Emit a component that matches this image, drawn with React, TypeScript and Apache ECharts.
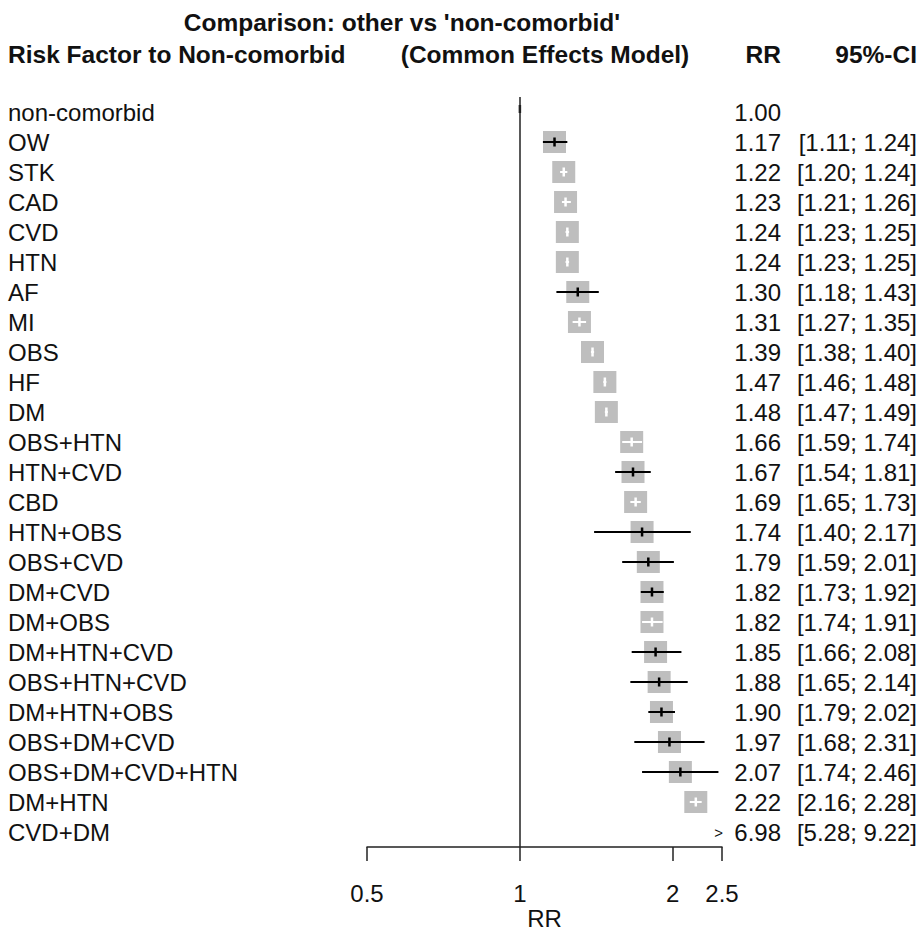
import React, { useEffect, useRef } from 'react';
import * as echarts from 'echarts';

const labels = [
  'non-comorbid', 'OW', 'STK', 'CAD', 'CVD', 'HTN', 'AF', 'MI', 'OBS', 'HF', 'DM',
  'OBS+HTN', 'HTN+CVD', 'CBD', 'HTN+OBS', 'OBS+CVD', 'DM+CVD', 'DM+OBS',
  'DM+HTN+CVD', 'OBS+HTN+CVD', 'DM+HTN+OBS', 'OBS+DM+CVD', 'OBS+DM+CVD+HTN',
  'DM+HTN', 'CVD+DM',
];
const rrValues = [
  1.00, 1.17, 1.22, 1.23, 1.24, 1.24, 1.30, 1.31, 1.39, 1.47, 1.48,
  1.66, 1.67, 1.69, 1.74, 1.79, 1.82, 1.82, 1.85, 1.88, 1.90, 1.97, 2.07,
  2.22, 6.98,
];
const ciLower: (number | null)[] = [
  null, 1.11, 1.20, 1.21, 1.23, 1.23, 1.18, 1.27, 1.38, 1.46, 1.47,
  1.59, 1.54, 1.65, 1.40, 1.59, 1.73, 1.74, 1.66, 1.65, 1.79, 1.68, 1.74,
  2.16, 5.28,
];
const ciUpper: (number | null)[] = [
  null, 1.24, 1.24, 1.26, 1.25, 1.25, 1.43, 1.35, 1.40, 1.48, 1.49,
  1.74, 1.81, 1.73, 2.17, 2.01, 1.92, 1.91, 2.08, 2.14, 2.02, 2.31, 2.46,
  2.28, 9.22,
];
const axisTickValues = [0.5, 1, 2, 2.5];
const axisMin = 0.5;
const axisMax = 2.5;
const titleText = "Comparison: other vs 'non-comorbid'";
const headerLeft = 'Risk Factor to Non-comorbid';
const headerModel = '(Common Effects Model)';
const headerRR = 'RR';
const headerCI = '95%-CI';
const axisName = 'RR';

const FONT = '"Liberation Sans", Arial, Helvetica, sans-serif';
const TEXT = '#111';
const BOX = '#bebebe';
const LINE = '#222';
const RR_RIGHT = 781;
const CI_RIGHT = 917;
const BOX_W = 23;
const BOX_H = 22;

const f2 = (v: number) => v.toFixed(2);

function hText(text: string, x: number, y: number, align: string) {
  return {
    type: 'text',
    x,
    y,
    silent: true,
    style: {
      text,
      fill: TEXT,
      fontFamily: FONT,
      fontSize: 24.5,
      fontWeight: 'bold',
      align,
      textAlign: align,
      verticalAlign: 'middle',
      textVerticalAlign: 'middle',
    },
  };
}

export default function App() {
  const ref = useRef<HTMLDivElement>(null);

  useEffect(() => {
    const chart = echarts.init(ref.current!, null, { renderer: 'svg' });
    const data = rrValues.map((v, i) => [Math.min(v, axisMax), i]);

    const renderItem = (params: any, api: any) => {
      const i = params.dataIndex;
      const rr = rrValues[i];
      const lo = ciLower[i];
      const hi = ciUpper[i];
      const pt = api.coord([Math.min(rr, axisMax), i]);
      const cx = pt[0];
      const cy = pt[1];
      const children: any[] = [];
      const txt = (text: string, x: number, size = 24) => ({
        type: 'text',
        style: {
          text, x, y: cy, fill: TEXT, fontFamily: FONT, fontSize: size,
          align: 'right', textAlign: 'right', verticalAlign: 'middle', textVerticalAlign: 'middle',
        },
      });
      children.push(txt(f2(rr), RR_RIGHT));
      if (lo != null && hi != null) {
        children.push(txt('[' + f2(lo) + '; ' + f2(hi) + ']', CI_RIGHT));
      }
      if (rr > axisMax) {
        children.push(txt('>', cx + 1, 15));
      } else if (lo == null || hi == null) {
        children.push({
          type: 'line',
          shape: { x1: cx, y1: cy - 7, x2: cx, y2: cy + 1 },
          style: { stroke: LINE, lineWidth: 2.5 },
        });
      } else {
        const xl = api.coord([lo, i])[0];
        const xh = api.coord([hi, i])[0];
        const outside = xl < cx - BOX_W / 2 || xh > cx + BOX_W / 2;
        const col = outside ? '#000' : '#fff';
        children.push({
          type: 'rect',
          shape: { x: cx - BOX_W / 2, y: cy - BOX_H / 2, width: BOX_W, height: BOX_H },
          style: { fill: BOX },
        });
        children.push({
          type: 'line',
          shape: { x1: xl, y1: cy, x2: xh, y2: cy },
          style: { stroke: col, lineWidth: 2 },
        });
        children.push({
          type: 'line',
          shape: { x1: cx, y1: cy - 4.5, x2: cx, y2: cy + 4.5 },
          style: { stroke: col, lineWidth: 2.5 },
        });
      }
      return { type: 'group', children };
    };

    chart.setOption({
      animation: false,
      backgroundColor: '#fff',
      grid: {
        left: 367, right: 197, top: 97, height: 750,
        containLabel: false,
        outerBoundsMode: 'none',
      },
      xAxis: {
        type: 'log',
        logBase: 2,
        min: axisMin,
        max: axisMax,
        name: axisName,
        nameLocation: 'middle',
        nameGap: 60,
        nameMoveOverlap: false,
        nameTextStyle: { color: TEXT, fontFamily: FONT, fontSize: 24, lineHeight: 22 },
        axisLine: { show: true, lineStyle: { color: LINE, width: 1.5 } },
        axisTick: {
          show: true,
          length: 14,
          customValues: axisTickValues,
          lineStyle: { color: LINE, width: 1.5 },
        },
        axisLabel: {
          show: true,
          customValues: axisTickValues,
          margin: 34,
          color: TEXT,
          fontFamily: FONT,
          fontSize: 24,
          formatter: (v: number) => String(+(+v).toFixed(2)),
        },
        splitLine: { show: false },
        minorTick: { show: false },
        minorSplitLine: { show: false },
      },
      yAxis: {
        type: 'category',
        inverse: true,
        data: labels,
        axisLine: { show: false },
        axisTick: { show: false },
        splitLine: { show: false },
        axisLabel: {
          interval: 0,
          margin: 359,
          align: 'left',
          color: TEXT,
          fontFamily: FONT,
          fontSize: 24,
        },
      },
      series: [
        {
          type: 'custom',
          renderItem,
          data,
          encode: { x: 0, y: 1 },
          clip: false,
          silent: true,
          markLine: {
            silent: true,
            symbol: ['none', 'none'],
            label: { show: false },
            lineStyle: { color: LINE, width: 1.5, type: 'solid' },
            data: [{ xAxis: 1 }],
          },
        },
      ],
      graphic: [
        hText(titleText, 402, 22, 'center'),
        hText(headerLeft, 8, 54, 'left'),
        hText(headerModel, 545, 54, 'center'),
        hText(headerRR, RR_RIGHT, 54, 'right'),
        hText(headerCI, CI_RIGHT, 54, 'right'),
      ],
    });

    return () => chart.dispose();
  }, []);

  return (
    <div
      ref={ref}
      style={{ position: 'fixed', left: 0, top: 0, width: 919, height: 931 }}
    />
  );
}
